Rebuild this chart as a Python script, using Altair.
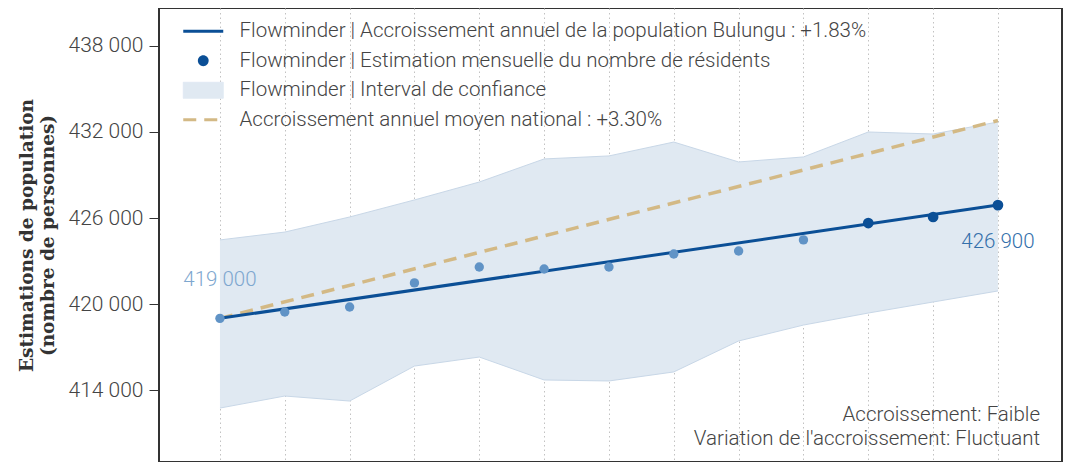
import altair as alt
import pandas as pd

# ---- data ----
mois = [1, 2, 3, 4, 5, 6, 7, 8, 9, 10, 11, 12, 13]
estimation = [419000, 419440, 419790, 421470, 422580, 422440, 422580,
              423490, 423700, 424470, 425650, 426070, 426900]
borne_inf = [412740, 413580, 413230, 415670, 416300, 414700, 414630,
             415260, 417420, 418530, 419370, 420140, 420910]
borne_sup = [424470, 425020, 426070, 427260, 428510, 430120, 430330,
             431300, 429910, 430260, 432000, 431860, 432700]
periode = ["ancienne", "ancienne", "ancienne", "ancienne", "ancienne",
           "ancienne", "ancienne", "ancienne", "ancienne", "ancienne",
           "récente", "récente", "récente"]

tendance_mois = [1, 13]
tendance_bulungu = [419000, 426900]
tendance_nationale = [419000, 432800]

y_ticks = [414000, 420000, 426000, 432000, 438000]

L1 = "Flowminder | Accroissement annuel de la population Bulungu : +1.83%"
L2 = "Flowminder | Estimation mensuelle du nombre de résidents"
L3 = "Flowminder | Interval de confiance"
L4 = "Accroissement annuel moyen national : +3.30%"
ANN = ["Accroissement: Faible", "Variation de l'accroissement: Fluctuant"]
Y_TITLE = ["Estimations de population", "(nombre de personnes)"]

DARK = "#0b4f96"
LIGHT = "#6093c6"
BAND = "#e0e9f2"
BAND_EDGE = "#c8d7e7"
TAN = "#d3b985"
TXT = "#444444"

df = pd.DataFrame({"mois": mois, "estimation": estimation, "borne_inf": borne_inf,
                   "borne_sup": borne_sup, "periode": periode})
dft = pd.DataFrame({"mois": tendance_mois, "tendance": tendance_bulungu,
                    "nationale": tendance_nationale})

W, H = 903, 454
x_scale = alt.Scale(domain=[0.06, 13.988], nice=False, zero=False)
y_scale = alt.Scale(domain=[408977, 440651], nice=False, zero=False)
color_scale = alt.Scale(domain=[L1, L2, L3, L4], range=[DARK, DARK, BAND, TAN])

x_axis = alt.Axis(values=mois, labels=False, ticks=True, tickSize=6, tickColor="#333",
                  grid=True, gridDash=[1.5, 3], gridColor="#c2c2c2", gridWidth=1,
                  domain=False, title=None)
y_axis = alt.Axis(values=y_ticks, labelExpr="replace(format(datum.value, ','), ',', ' ')",
                  tickSize=10, tickColor="#333", labelPadding=6, labelFont="Roboto",
                  labelFontSize=21, labelFontWeight=300, labelColor=TXT, grid=False,
                  domain=False, title=Y_TITLE, titleFont="DejaVu Serif",
                  titleFontWeight="bold", titleFontSize=18.5, titleColor="#333",
                  titleLineHeight=21.5, titlePadding=10)

is1 = f"datum.value === '{L1}'"
is2 = f"datum.value === '{L2}'"
is3 = f"datum.value === '{L3}'"
is4 = f"datum.value === '{L4}'"
CIRCLE = "M-0.27,0A0.27,0.27,0,1,1,0.27,0A0.27,0.27,0,1,1,-0.27,0Z"
RECT = "M-1,-0.4H1V0.4H-1Z"
LINE = "M-1,0H1"

legend = alt.Legend(
    title=None, orient="none", legendX=34, legendY=13, padding=0,
    symbolSize=1600, labelOffset=26, rowPadding=8.5,
    labelFont="Roboto", labelFontSize=20.5, labelFontWeight=300, labelColor=TXT,
    labelLimit=1000, symbolOpacity=1,
    symbolType={"expr": f"{is2} ? '{CIRCLE}' : {is3} ? '{RECT}' : '{LINE}'"},
    symbolFillColor={"expr": f"{is2} ? '{DARK}' : {is3} ? '{BAND}' : 'transparent'"},
    symbolStrokeColor={"expr": f"{is1} ? '{DARK}' : {is3} ? '{BAND_EDGE}' : {is4} ? '{TAN}' : 'transparent'"},
    symbolStrokeWidth={"expr": f"{is3} ? 1 : ({is2} ? 0 : 3)"},
    symbolDash={"expr": f"{is4} ? [13, 8] : [1, 0]"},
)


def serie_color():
    return alt.Color("serie:N", scale=color_scale, legend=legend)


X = alt.X("mois:Q", scale=x_scale, axis=x_axis)

band = alt.Chart(df).transform_calculate(serie=f"'{L3}'").mark_area(opacity=1).encode(
    x=X,
    y=alt.Y("borne_inf:Q", scale=y_scale, axis=y_axis),
    y2="borne_sup:Q",
    color=serie_color(),
)
edge_hi = alt.Chart(df).mark_line(color=BAND_EDGE, strokeWidth=1).encode(
    x=X, y=alt.Y("borne_sup:Q", scale=y_scale, axis=y_axis))
edge_lo = alt.Chart(df).mark_line(color=BAND_EDGE, strokeWidth=1).encode(
    x=X, y=alt.Y("borne_inf:Q", scale=y_scale, axis=y_axis))

national = alt.Chart(dft).transform_calculate(serie=f"'{L4}'").mark_line(
    strokeDash=[13, 8], strokeWidth=3.5).encode(
    x=X, y=alt.Y("nationale:Q", scale=y_scale, axis=y_axis),
    color=serie_color(),
)
trend = alt.Chart(dft).transform_calculate(serie=f"'{L1}'").mark_line(
    strokeWidth=3).encode(
    x=X, y=alt.Y("tendance:Q", scale=y_scale, axis=y_axis),
    color=serie_color(),
)
points = alt.Chart(df).mark_circle(opacity=1).encode(
    x=X, y=alt.Y("estimation:Q", scale=y_scale, axis=y_axis),
    fill=alt.condition("datum.periode == 'récente'", alt.value(DARK), alt.value(LIGHT)),
    size=alt.condition("datum.periode == 'récente'", alt.value(115), alt.value(88)),
)

lab_base = alt.Chart(df).transform_calculate(
    lbl="replace(format(datum.estimation, ','), ',', ' ')")
lab_first = lab_base.transform_filter("datum.mois == 1").mark_text(
    dy=-38, font="Roboto", fontSize=20.5, fontWeight=300, color="#7ea7cf",
    align="center", baseline="middle").encode(
    x=X, y=alt.Y("estimation:Q", scale=y_scale, axis=y_axis), text="lbl:N")
lab_last = lab_base.transform_filter("datum.mois == 13").mark_text(
    dy=37, font="Roboto", fontSize=20.5, fontWeight=300, color="#3470ab",
    align="center", baseline="middle").encode(
    x=X, y=alt.Y("estimation:Q", scale=y_scale, axis=y_axis), text="lbl:N")

annot = alt.Chart(pd.DataFrame({"a": [0]})).mark_text(
    align="right", baseline="alphabetic", lineHeight=24, font="Roboto",
    fontSize=20.5, fontWeight=300, color=TXT).encode(
    x=alt.value(881), y=alt.value(413), text=alt.value(ANN))

chart = alt.layer(band, edge_hi, edge_lo, national, trend, points,
                  lab_first, lab_last, annot).properties(
    width=W, height=H,
    background="white",
    autosize=alt.AutoSizeParams(type="none"),
    padding={"left": 151, "top": 0, "right": 1, "bottom": 0},
).configure_view(stroke="#333333", strokeWidth=2, strokeOpacity=1
).configure_axisY(labelFontSize=21, labelFont="Roboto", labelFontWeight=300)

chart.save("out.html", embed_options={"renderer": "svg", "actions": False})
